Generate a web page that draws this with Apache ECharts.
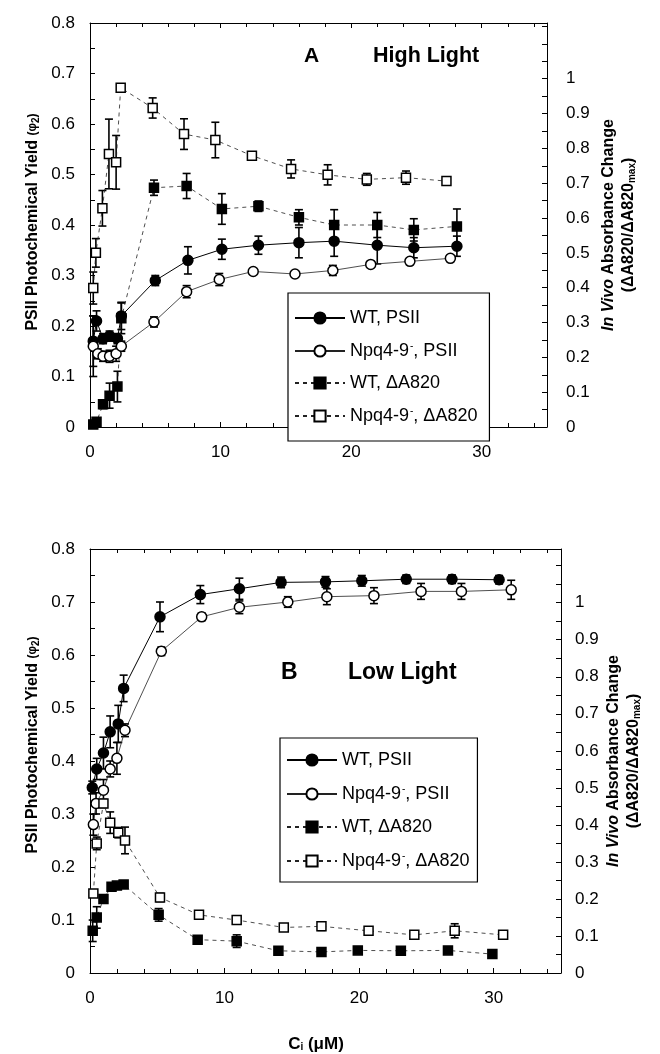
<!DOCTYPE html>
<html>
<head>
<meta charset="utf-8">
<script src="https://cdn.jsdelivr.net/npm/echarts@6/dist/echarts.min.js"></script>
<style>
  html, body { margin: 0; padding: 0; background: #fff; }
  #chart { width: 660px; height: 1054px; }
</style>
</head>
<body>
<div id="chart"></div>
<script>
// ---- Panel A : High Light ----
const ciA_wtPS = [0.25, 0.5, 1.0, 1.5, 2.1, 2.4, 5.0, 7.5, 10.1, 12.9, 16.0, 18.7, 22.0, 24.8, 28.1];
const valA_wtPS = [0.17, 0.21, 0.175, 0.18, 0.175, 0.22, 0.29, 0.33, 0.352, 0.36, 0.365, 0.368, 0.36, 0.355, 0.358];
const errA_wtPS = [0.05, 0.02, 0.01, 0.01, 0.01, 0.027, 0.01, 0.027, 0.02, 0.018, 0.03, 0.03, 0.037, 0.02, 0.02];

const ciA_npqPS = [0.25, 0.6, 1.0, 1.5, 2.0, 2.4, 4.9, 7.4, 9.9, 12.5, 15.7, 18.6, 21.5, 24.5, 27.6];
const valA_npqPS = [0.16, 0.145, 0.14, 0.14, 0.145, 0.16, 0.208, 0.268, 0.292, 0.308, 0.303, 0.31, 0.322, 0.328, 0.334];
const errA_npqPS = [0.06, 0.01, 0.01, 0.012, 0.015, 0.01, 0.01, 0.012, 0.012, 0.005, 0.004, 0.01, 0.005, 0.005, 0.004];

// right axis (ΔA820/ΔA820max)
const ciA_wtA820 = [0.25, 0.5, 1.0, 1.5, 2.1, 2.4, 4.9, 7.4, 10.1, 12.9, 16.0, 18.7, 22.0, 24.8, 28.1];
const valA_wtA820 = [0.007, 0.015, 0.065, 0.09, 0.116, 0.312, 0.687, 0.692, 0.626, 0.634, 0.602, 0.58, 0.58, 0.566, 0.576];
const errA_wtA820 = [0, 0, 0.012, 0.036, 0.044, 0.044, 0.022, 0.036, 0.044, 0.015, 0.022, 0.044, 0.036, 0.032, 0.05];

const ciA_npqA820 = [0.25, 0.45, 0.95, 1.45, 2.0, 2.35, 4.8, 7.2, 9.6, 12.4, 15.4, 18.2, 21.2, 24.2, 27.3];
const valA_npqA820 = [0.399, 0.5, 0.628, 0.784, 0.76, 0.974, 0.916, 0.841, 0.824, 0.779, 0.741, 0.724, 0.711, 0.716, 0.706];
const errA_npqA820 = [0.046, 0.041, 0.051, 0.1, 0.077, 0, 0.029, 0.044, 0.051, 0.006, 0.026, 0.029, 0.017, 0.019, 0];

// ---- Panel B : Low Light ----
const ciB_wtPS = [0.17, 0.5, 1.0, 1.5, 2.1, 2.5, 5.2, 8.2, 11.1, 14.2, 17.5, 20.2, 23.5, 26.9, 30.4];
const valB_wtPS = [0.35, 0.385, 0.415, 0.455, 0.47, 0.537, 0.672, 0.714, 0.725, 0.737, 0.738, 0.74, 0.743, 0.743, 0.742];
const errB_wtPS = [0.012, 0.02, 0.03, 0.03, 0.035, 0.025, 0.028, 0.017, 0.02, 0.01, 0.01, 0.01, 0.008, 0.008, 0.008];

const ciB_npqPS = [0.25, 0.45, 1.0, 1.5, 2.0, 2.6, 5.3, 8.3, 11.1, 14.7, 17.6, 21.1, 24.6, 27.6, 31.3];
const valB_npqPS = [0.28, 0.32, 0.345, 0.385, 0.405, 0.458, 0.607, 0.672, 0.69, 0.70, 0.71, 0.712, 0.72, 0.72, 0.723];
const errB_npqPS = [0.02, 0.02, 0.02, 0.015, 0.03, 0.012, 0.008, 0.007, 0.012, 0.01, 0.015, 0.015, 0.015, 0.015, 0.018];

const ciB_wtA820 = [0.2, 0.5, 1.0, 1.6, 2.0, 2.5, 5.1, 8.0, 10.9, 14.0, 17.2, 19.9, 23.1, 26.6, 29.9];
const valB_wtA820 = [0.114, 0.15, 0.2, 0.233, 0.236, 0.239, 0.157, 0.09, 0.086, 0.06, 0.057, 0.061, 0.06, 0.061, 0.051];
const errB_wtA820 = [0.029, 0.029, 0.006, 0.007, 0.007, 0.006, 0.017, 0.009, 0.017, 0.006, 0.006, 0.006, 0.006, 0.006, 0.006];

const ciB_npqA820 = [0.25, 0.5, 1.0, 1.5, 2.1, 2.6, 5.2, 8.1, 10.9, 14.4, 17.2, 20.7, 24.1, 27.1, 30.7];
const valB_npqA820 = [0.215, 0.35, 0.458, 0.406, 0.379, 0.358, 0.204, 0.157, 0.143, 0.123, 0.126, 0.114, 0.103, 0.114, 0.103];
const errB_npqA820 = [0.007, 0.017, 0.011, 0.029, 0.014, 0.036, 0.011, 0.009, 0.007, 0.007, 0.011, 0.007, 0.007, 0.019, 0.011];

const seriesNames = ['WT, PSII', 'Npq4-9-, PSII', 'WT, ΔA820', 'Npq4-9-, ΔA820'];
const leftTicks = { min: 0, max: 0.8, interval: 0.1 };
const xTicks = { min: 0, max: 35, interval: 10 };

const FONT = '"Liberation Sans", Arial, Helvetica, sans-serif';

function zip(ci, v, e) {
  return ci.map(function (c, i) { return [c, v[i], e[i]]; });
}

function errBars(params, api) {
  var x = api.value(0), y = api.value(1), e = api.value(2);
  if (!e) return null;
  var hi = api.coord([x, y + e]);
  var lo = api.coord([x, y - e]);
  var w = 4;
  var st = { stroke: '#000', lineWidth: 1.6 };
  return {
    type: 'group',
    children: [
      { type: 'line', shape: { x1: hi[0], y1: hi[1], x2: lo[0], y2: lo[1] }, style: st },
      { type: 'line', shape: { x1: hi[0] - w, y1: hi[1], x2: hi[0] + w, y2: hi[1] }, style: st },
      { type: 'line', shape: { x1: lo[0] - w, y1: lo[1], x2: lo[0] + w, y2: lo[1] }, style: st }
    ]
  };
}

const styles = [
  { symbol: 'circle', size: 10, fill: '#000', line: { color: '#000', width: 1, type: 'solid' } },
  { symbol: 'circle', size: 10, fill: '#fff', line: { color: '#222', width: 0.8, type: 'solid' } },
  { symbol: 'rect', size: 9, fill: '#000', line: { color: '#222', width: 0.8, type: [4, 4] } },
  { symbol: 'rect', size: 9, fill: '#fff', line: { color: '#222', width: 0.8, type: [4, 4] } }
];

function panelSeries(g, sets) {
  var out = [];
  sets.forEach(function (s, k) {
    var yIdx = k < 2 ? g * 2 : g * 2 + 1;
    out.push({
      type: 'custom',
      xAxisIndex: g * 2, yAxisIndex: yIdx,
      renderItem: errBars,
      encode: { x: 0, y: 1 },
      data: s,
      z: 2,
      silent: true
    });
  });
  sets.forEach(function (s, k) {
    var yIdx = k < 2 ? g * 2 : g * 2 + 1;
    var st = styles[k];
    out.push({
      name: seriesNames[k],
      type: 'line',
      xAxisIndex: g * 2, yAxisIndex: yIdx,
      data: s.map(function (d) { return [d[0], d[1]]; }),
      symbol: st.symbol,
      symbolSize: st.size,
      showAllSymbol: true,
      lineStyle: st.line,
      itemStyle: { color: st.fill, borderColor: '#000', borderWidth: 1.5 },
      z: 3,
      animation: false
    });
  });
  return out;
}

function xAxes(g) {
  var base = {
    gridIndex: g, type: 'value', min: xTicks.min, max: xTicks.max, interval: xTicks.interval,
    axisLine: { show: true, onZero: false, lineStyle: { color: '#000', width: 1 } },
    axisTick: { show: true, inside: true, length: 5, lineStyle: { color: '#000' } },
    minorTick: { show: true, splitNumber: 5, length: 4, lineStyle: { color: '#000' } },
    splitLine: { show: false }
  };
  var bottom = Object.assign({}, base, {
    position: 'bottom',
    axisLabel: {
      margin: 17, fontSize: 17, fontFamily: FONT, color: '#000',
      formatter: function (v) { return v % 10 === 0 ? String(v) : ''; }
    }
  });
  var top = Object.assign({}, base, { position: 'top', axisLabel: { show: false } });
  return [bottom, top];
}

function yAxes(g, rightMax, rightMargin) {
  var common = {
    gridIndex: g, type: 'value', min: 0, interval: 0.1,
    axisLine: { show: true, onZero: false, lineStyle: { color: '#000', width: 1 } },
    axisTick: { show: true, inside: true, length: 5, lineStyle: { color: '#000' } },
    minorTick: { show: true, splitNumber: 2, length: 5, lineStyle: { color: '#000' } },
    splitLine: { show: false }
  };
  var left = Object.assign({}, common, {
    position: 'left', max: leftTicks.max,
    axisLabel: {
      margin: 15, fontSize: 17, fontFamily: FONT, color: '#000',
      formatter: function (v) { return String(+v.toFixed(2)); }
    }
  });
  var right = Object.assign({}, common, {
    position: 'right', max: rightMax,
    axisLabel: {
      margin: rightMargin, fontSize: 17, fontFamily: FONT, color: '#000', align: 'left',
      formatter: function (v) { return v > 1.001 ? '' : String(+v.toFixed(2)); }
    }
  });
  return [left, right];
}

function legendFor(left, top, pad, gap) {
  return {
    orient: 'vertical', left: left, top: top,
    padding: pad, itemGap: gap, itemWidth: 50, itemHeight: 14,
    borderColor: '#000', borderWidth: 1.2, backgroundColor: '#fff',
    selectedMode: false,
    data: seriesNames,
    textStyle: {
      fontSize: 18, fontFamily: FONT, color: '#000',
      rich: { s: { fontSize: 10, fontFamily: FONT, color: '#000', padding: [0, 0, 10, 1] } }
    },
    formatter: function (name) { return name.replace('Npq4-9-', 'Npq4-9{s|-}'); }
  };
}

const richSub = {
  sub: { fontSize: 10, fontWeight: 'bold', fontFamily: FONT, padding: [7, 0, 0, 0] },
  phi: { fontSize: 12, fontFamily: FONT, fontWeight: 'bold' },
  it: { fontSize: 16, fontStyle: 'italic', fontWeight: 'bold', fontFamily: FONT }
};

function vText(x, y, text, size) {
  return {
    type: 'text', x: x, y: y, rotation: Math.PI / 2, silent: true,
    style: {
      text: text, fontSize: size, fontWeight: 'bold', fontFamily: FONT, fill: '#000',
      align: 'center', verticalAlign: 'middle', rich: richSub
    }
  };
}

function label(x, y, text, size) {
  return {
    type: 'text', x: x, y: y, silent: true,
    style: { text: text, fontSize: size, fontWeight: 'bold', fontFamily: FONT, fill: '#000', align: 'left', verticalAlign: 'middle' }
  };
}

const leftTitle = 'PSII Photochemical Yield {phi|(φ}{sub|2}{phi|)}';
const rightTitle1 = '{it|In Vivo} Absorbance Change';
const rightTitle2 = '(ΔA820/ΔA820{sub|max})';

const chart = echarts.init(document.getElementById('chart'), null, { renderer: 'canvas' });

const option = {
  animation: false,
  backgroundColor: '#fff',
  grid: [
    { left: 90, top: 23, width: 457, height: 404 },
    { left: 90, top: 549, width: 471, height: 424 }
  ],
  xAxis: xAxes(0).concat(xAxes(1)),
  yAxis: yAxes(0, 1.16, 19).concat(yAxes(1, 1.145, 14)),
  legend: [
    legendFor(288, 293, [16, 12, 16, 6], 14),
    legendFor(280, 738, [13, 8, 12, 6], 15)
  ],
  series: panelSeries(0, [
    zip(ciA_wtPS, valA_wtPS, errA_wtPS),
    zip(ciA_npqPS, valA_npqPS, errA_npqPS),
    zip(ciA_wtA820, valA_wtA820, errA_wtA820),
    zip(ciA_npqA820, valA_npqA820, errA_npqA820)
  ]).concat(panelSeries(1, [
    zip(ciB_wtPS, valB_wtPS, errB_wtPS),
    zip(ciB_npqPS, valB_npqPS, errB_npqPS),
    zip(ciB_wtA820, valB_wtA820, errB_wtA820),
    zip(ciB_npqA820, valB_npqA820, errB_npqA820)
  ])),
  graphic: [
    vText(33, 222, leftTitle, 16),
    vText(33, 745, leftTitle, 16),
    vText(609, 225, rightTitle1, 16),
    vText(629, 225, rightTitle2, 16),
    vText(614, 761, rightTitle1, 16),
    vText(634, 761, rightTitle2, 16),
    label(304, 56, 'A', 21),
    label(373, 56, 'High Light', 21.5),
    label(281, 673, 'B', 23),
    label(348, 673, 'Low Light', 23),
    {
      type: 'text', x: 316, y: 1044, silent: true,
      style: {
        text: 'C{sub|i} (μM)', fontSize: 17, fontWeight: 'bold', fontFamily: FONT, fill: '#000',
        align: 'center', verticalAlign: 'middle', rich: richSub
      }
    }
  ]
};

chart.setOption(option);
</script>
</body>
</html>
